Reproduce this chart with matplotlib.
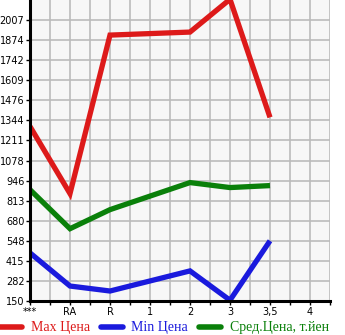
import numpy as np
import matplotlib.pyplot as plt
from matplotlib.lines import Line2D

# категории по оси X
categories = ['***', 'RA', 'R', '1', '2', '3', '3,5', '4']

# значения (None = нет данных)
max_price = [1304, 860, 1908, None, 1928, 2145, 1364, None]
min_price = [468, 249, 216, None, 349, 155, 548, None]
avg_price = [886, 628, 754, None, 933, 900, 913, None]

y_ticks = [150, 282, 415, 548, 680, 813, 946, 1078, 1211, 1344, 1476, 1609, 1742, 1874, 2007]
y_min, y_step = 150, 132.67

series = [
    ('Max Цена', max_price, '#dd1a1a'),
    ('Min Цена', min_price, '#1a1add'),
    ('Сред.Цена, т.йен', avg_price, '#0a800a'),
]

fig = plt.figure(figsize=(3.45, 3.35), dpi=100)
ax = fig.add_axes([30 / 345, 34 / 335, 300 / 345, 301 / 335])
ax.set_facecolor('#f7f7f7')

for label, vals, color in series:
    xs = [i for i, v in enumerate(vals) if v is not None]
    ys = [v for v in vals if v is not None]
    ax.plot(xs, ys, color=color, linewidth=3.8, solid_capstyle='butt',
            solid_joinstyle='miter', label=label)

ax.set_xlim(0, 7.5)
ax.set_ylim(y_min, y_min + 15 * y_step)

# сетка
ax.set_xticks(np.arange(0, 7.51, 0.5), minor=True)
ax.set_xticks(range(len(categories)))
ax.set_xticklabels(categories, fontsize=7, family='DejaVu Sans')
ax.set_yticks([y_min + k * y_step for k in range(15)])
ax.set_yticklabels([str(t) for t in y_ticks], fontsize=7, family='DejaVu Sans')
ax.grid(True, which='both', color='#bbbbbb', linewidth=1.2)
ax.set_axisbelow(True)

for s in ['top', 'right']:
    ax.spines[s].set_visible(False)
for s in ['left', 'bottom']:
    ax.spines[s].set_linewidth(2.2)
    ax.spines[s].set_color('black')

ax.tick_params(axis='x', which='both', length=3, width=1, pad=1.5)
ax.tick_params(axis='y', length=3, width=1, pad=1)

# легенда
handles = [Line2D([0], [0], color=c, linewidth=4, solid_capstyle='round') for _, _, c in series]
leg = fig.legend(handles, [s[0] for s in series], loc='center left',
                 bbox_to_anchor=(0.0, 7 / 335), ncol=3, frameon=False,
                 borderpad=0, borderaxespad=0,
                 handlelength=1.6, handletextpad=0.6, columnspacing=0.8,
                 prop={'family': 'Liberation Serif', 'size': 10})
for txt, (_, _, c) in zip(leg.get_texts(), series):
    txt.set_color(c)

fig.savefig('out.png', dpi=100)
